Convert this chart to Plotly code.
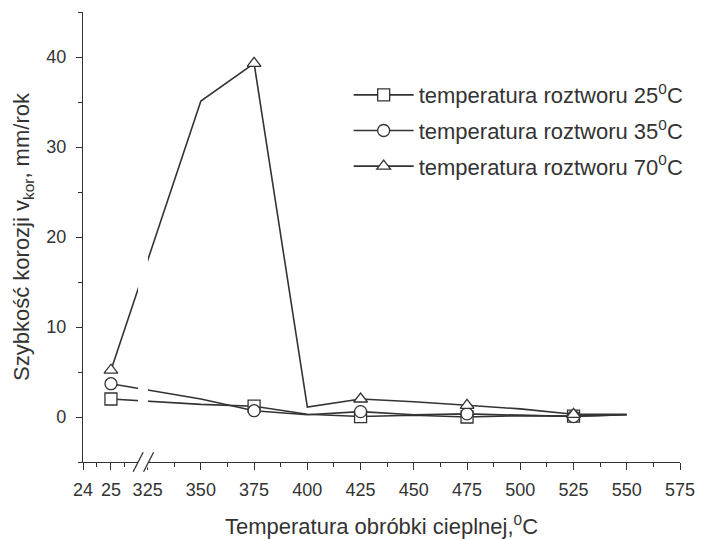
import numpy as np
import plotly.graph_objects as go

# ---- data ----
temps = [25, 350, 375, 400, 425, 450, 475, 500, 525, 550]
v25 = [2.0, 1.4, 1.2, 0.3, 0.05, 0.2, 0.0, 0.15, 0.1, 0.25]
v35 = [3.7, 2.0, 0.7, 0.25, 0.6, 0.25, 0.35, 0.2, 0.05, 0.25]
v70 = [5.2, 35.1, 39.3, 1.1, 2.0, 1.7, 1.3, 0.9, 0.3, 0.3]
names = ["temperatura roztworu 25<sup>0</sup>C",
         "temperatura roztworu 35<sup>0</sup>C",
         "temperatura roztworu 70<sup>0</sup>C"]
symbols = ["square", "circle", "triangle-up"]
marker_every = 2  # markers drawn on every other point

left_ticks = [24, 25]
left_minor = [24.5, 25.5]
right_ticks = [325, 350, 375, 400, 425, 450, 475, 500, 525, 550, 575]
right_minor = [337.5, 362.5, 387.5, 412.5, 437.5, 462.5, 487.5, 512.5, 537.5, 562.5]

# broken axis: left segment 24..26 stretched, right segment 325..575 linear
BREAK_LEFT0 = 294.65   # display coordinate of value 24
LEFT_SCALE = 13.13     # display units per original unit on left segment
def to_disp(vals):
    vals = np.asarray(vals, dtype=float)
    return np.where(vals < 100, BREAK_LEFT0 + (vals - 24) * LEFT_SCALE, vals)

C = "#333333"
FONT = "Liberation Sans, Arial, sans-serif"

fig = go.Figure()
series = [v25, v35, v70]
xd = to_disp(temps)
for name, ys, sym in zip(names, series, symbols):
    fig.add_trace(go.Scatter(x=xd, y=ys, mode="lines", line=dict(color=C, width=1.6),
                             showlegend=False, hoverinfo="skip"))
for name, ys, sym in zip(names, series, symbols):
    fig.add_trace(go.Scatter(x=xd[::marker_every], y=ys[::marker_every], mode="markers",
                             marker=dict(symbol=sym, size=12, color="white", line=dict(color=C, width=1.3)),
                             showlegend=False))
for i, (name, ys, sym) in enumerate(zip(names, series, symbols)):
    fig.add_trace(go.Scatter(x=[None], y=[None], mode="lines+markers", name=name,
                             legendgroup=f"g{i}",
                             line=dict(color=C, width=1.6),
                             marker=dict(symbol=sym, size=12, color="white", line=dict(color=C, width=1.3))))

tickvals = list(to_disp(left_ticks)) + right_ticks
ticktext = [str(t) for t in left_ticks + right_ticks]
minorvals = list(to_disp(left_minor)) + right_minor

fig.update_xaxes(range=[BREAK_LEFT0, 575], tickmode="array", tickvals=tickvals, ticktext=ticktext,
                 ticks="outside", ticklen=7, tickwidth=1.3, tickcolor=C, automargin=False,
                 showline=True, linecolor=C, linewidth=1.3, showgrid=False, zeroline=False,
                 tickfont=dict(size=18, color=C, family=FONT), ticklabelstandoff=4,
                 minor=dict(tickmode="array", tickvals=minorvals, ticks="outside", ticklen=4,
                            tickwidth=1.2, tickcolor=C, showgrid=False),
                 title=dict(text="Temperatura obróbki cieplnej,<sup>0</sup>C",
                            font=dict(size=22, color=C, family=FONT), standoff=20))
fig.update_yaxes(range=[-5, 45], tickvals=[0, 10, 20, 30, 40], ticks="outside", ticklen=6,
                 tickwidth=1.3, tickcolor=C, showline=True, linecolor=C, linewidth=1.3,
                 showgrid=False, zeroline=False, automargin=False,
                 tickfont=dict(size=18, color=C, family=FONT), ticklabelstandoff=6,
                 minor=dict(dtick=5, ticks="outside", ticklen=4, tickwidth=1.2, tickcolor=C, showgrid=False),
                 title=dict(text="Szybkość korozji v<sub>kor</sub>, mm/rok",
                            font=dict(size=22, color=C, family=FONT), standoff=10))

# axis break marks
gx0, gx1 = 320.5, 325.15
fig.add_shape(type="rect", xref="x", yref="paper", x0=gx0, x1=gx1, y0=-0.012, y1=1.0,
              fillcolor="white", line=dict(width=0), layer="above")
for xa, xb in [(318.2, 322.9), (323.1, 327.8)]:
    fig.add_shape(type="line", xref="x", yref="paper", x0=xa, x1=xb, y0=-0.0216, y1=0.0216,
                  line=dict(color=C, width=1.3), layer="above")

fig.update_layout(width=716, height=539, margin=dict(l=83, r=36, t=12, b=77),
                  plot_bgcolor="white", paper_bgcolor="white",
                  font=dict(family=FONT, color=C),
                  legend=dict(x=0.445, y=0.862, xanchor="left", yanchor="top",
                              font=dict(size=22, color=C, family=FONT),
                              bgcolor="rgba(0,0,0,0)", itemwidth=60, tracegroupgap=4))
fig.write_html("out.html")
